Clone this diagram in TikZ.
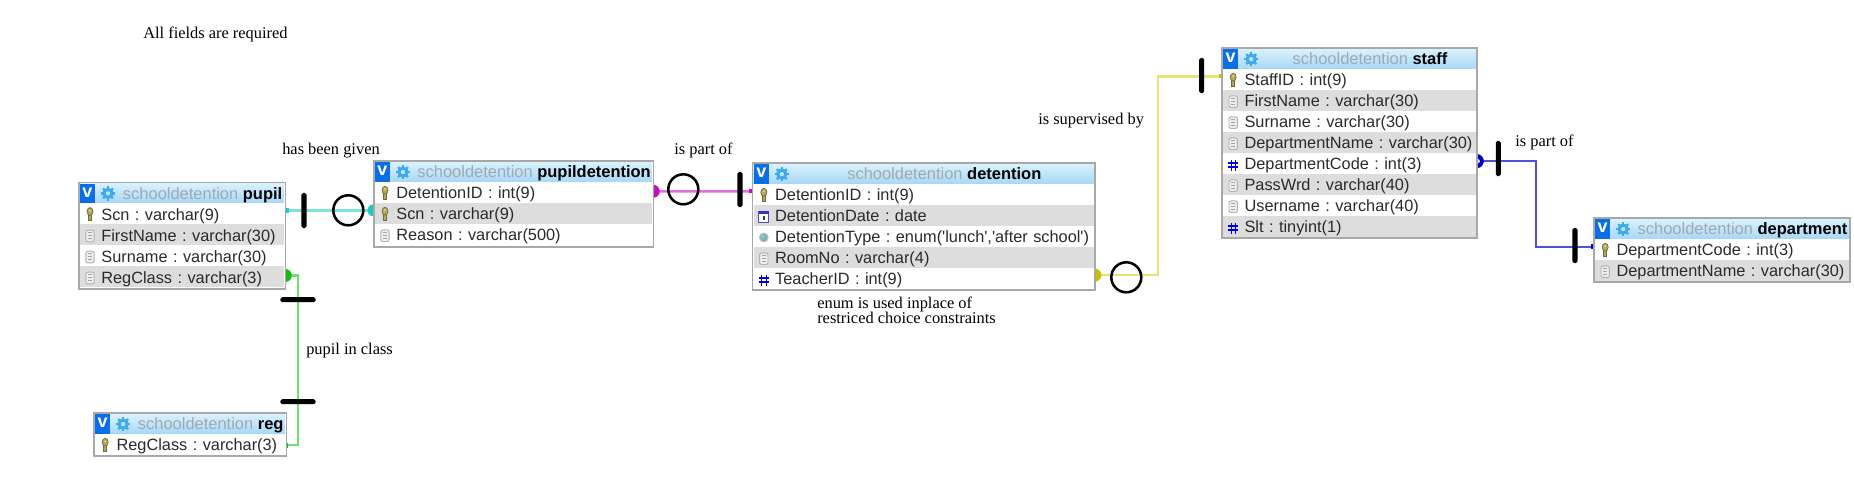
\documentclass[tikz,border=0pt]{standalone}
\usepackage{fontspec}
\setmainfont{Liberation Serif}
\newfontfamily\tabfont{Liberation Sans}
\pgfdeclarelayer{bg}
\pgfsetlayers{bg,main}
\definecolor{framegray}{HTML}{A8A8A8}
\definecolor{rowgray}{HTML}{DDDDDD}
\definecolor{schemagray}{HTML}{A2A9B0}
\definecolor{hdrtop}{HTML}{D8F1FD}
\definecolor{hdrbot}{HTML}{A6D6F6}
\definecolor{vblue}{HTML}{0A6FE6}
\definecolor{gearblue}{HTML}{3DA9EE}
\definecolor{rowtext}{HTML}{2A2A2A}
\definecolor{keyfill}{HTML}{B5A85A}
\definecolor{keydark}{HTML}{6E6A3C}
\definecolor{keylight}{HTML}{E8E2B0}
\definecolor{cyanline}{HTML}{7FE2DA}\definecolor{cyanend}{HTML}{20C8C0}
\definecolor{greenline}{HTML}{70E070}\definecolor{greenend}{HTML}{10C010}
\definecolor{magline}{HTML}{E070E0}\definecolor{magend}{HTML}{C010C0}
\definecolor{yelline}{HTML}{E8E270}\definecolor{yelend}{HTML}{C8C000}
\definecolor{bluline}{HTML}{5050D8}\definecolor{bluend}{HTML}{0000C0}
\tikzset{
  x=.75pt,y=-.75pt,
  tframe/.style={draw=framegray,line width=.75pt,fill=white,rectangle,inner sep=0,anchor=north west},
  thead/.style={rectangle,inner sep=0,anchor=north west,top color=hdrtop,bottom color=hdrbot,draw=none},
  trow/.style={rectangle,anchor=west,inner xsep=0,inner ysep=0,minimum height=15.75pt,text height=10pt,text depth=.3pt,align=left,font=\tabfont\fontsize{12.25}{15}\selectfont\frenchspacing,text=rowtext},
  ttitle/.style={font=\tabfont\fontsize{12.35}{15}\selectfont\frenchspacing,inner sep=0,text height=9.5pt,text depth=.5pt},
  rel/.style={line width=1.8pt},
  optcircle/.style={circle,draw=black,line width=1.9pt,minimum size=22.5pt,inner sep=0},
  vbar/.style={rectangle,fill=black,rounded corners=1.4pt,minimum width=3.8pt,minimum height=26.5pt,inner sep=0},
  hbar/.style={rectangle,fill=black,rounded corners=1.4pt,minimum width=26.5pt,minimum height=3.8pt,inner sep=0},
  note/.style={font=\fontsize{12.3}{15}\selectfont,anchor=base west,inner sep=0,text=black},
}
\newcommand{\icokey}{%
  \fill[keydark] (-1.8,0) rectangle (1.8,7);
  \fill[keyfill] (-.9,.5) rectangle (.9,6.4);
  \filldraw[fill=keyfill,draw=keydark,line width=.5pt] (0,-2.3) ellipse (3 and 3.9);
  \fill[keylight] (0,-3.3) circle (1);}
\newcommand{\icodoc}{%
  \filldraw[fill=black!7,draw=black!30,line width=.7pt,rounded corners=1.5pt] (-4.2,-4.6) rectangle (4.2,7);
  \draw[black!35,line width=.5pt] (-2,-2) -- (2,-2) (-2,1) -- (2,1) (-2,4) -- (2,4);}
\newcommand{\icohash}{%
  \draw[blue!90!black,line width=1pt] (-2,-3.5) -- (-2,7) (2.4,-3.5) -- (2.4,7) (-5,-.5) -- (5,-.5) (-5,3.5) -- (5,3.5);}
\newcommand{\icodate}{%
  \filldraw[fill=white,draw=black!30!blue!70,line width=.6pt] (-5,-4.5) rectangle (5,6.5);
  \fill[blue!60!gray] (-5,-4.5) rectangle (5,-1.5);
  \fill[black!75] (-.6,0) rectangle (1,4.5);}
\newcommand{\icoenum}{%
  \filldraw[fill=teal!55,draw=black!25,line width=.7pt] (0,1) circle (4.4);
  \fill[white!60!teal] (-.8,0) circle (1.6);}
\newcommand{\tabl}[7]{%
  \pgfmathsetmacro\Wf{(#4-#2)*.75}
  \pgfmathsetmacro\Hf{(#5-#3)*.75}
  \pgfmathsetmacro\Wr{(#4-#2-2)*.75}
  \node[tframe,minimum width=\Wf pt,minimum height=\Hf pt] (#1) at (#2,#3) {};
  \node[thead,minimum width=\Wr pt,minimum height=14.9pt] (#1-h) at ({#2+1},{#3+1.5}) {};
  \fill[vblue] ({#2+1.6},{#3+1.5}) rectangle ({#2+16.5},{#3+21.3});
  \node[font=\tabfont\bfseries\fontsize{13.5}{14}\selectfont,text=white,inner sep=0] (#1-v) at ({#2+9},{#3+10.4}) {v};
  \foreach \a in {0,45,...,315}
    \draw[gearblue,line width=1.7pt] ({#2+29.5},{#3+11.4}) ++(\a:3.5) -- ++(\a:3.6);
  \draw[gearblue,line width=2.3pt] ({#2+29.5},{#3+11.4}) circle (4);
  \node[ttitle] (#1-t) at ({(#2+#4)/2+21},{#3+11}) {\textcolor{schemagray}{schooldetention} \textbf{\textcolor{black}{#6}}};
  \foreach \ic/\tx [count=\i] in {#7} {
    \pgfmathtruncatemacro\odd{mod(\i,2)}
    \ifnum\odd=0 \def\rf{rowgray}\else\def\rf{white}\fi
    \node[trow,fill=\rf,text width=\Wr pt,minimum width=\Wr pt] (#1-r\i) at ({#2+1},{#3+21.3+(\i-.5)*21}) {\hspace*{16.2pt}\mbox{\tx}};
    \begin{scope}[shift={({#2+11.5},{#3+21.3+(\i-.5)*21})}]
      \csname ico\ic\endcsname
    \end{scope}
  }
  \draw[framegray,line width=.75pt] (#1.north west) rectangle (#1.south east);
}
\begin{document}
\begin{tikzpicture}
\useasboundingbox (0,0) rectangle (1854,493);
\begin{pgfonlayer}{bg}
\fill[white] (0,0) rectangle (1854,493);
\end{pgfonlayer}

\tabl{pupil}{78.5}{182}{284.7}{288}{pupil}{key/{Scn : varchar(9)},doc/{FirstName : varchar(30)},doc/{Surname : varchar(30)},doc/{RegClass : varchar(3)}}
\tabl{pd}{373.5}{160.7}{652.7}{246.3}{pupildetention}{key/{DetentionID : int(9)},key/{Scn : varchar(9)},doc/{Reason : varchar(500)}}
\tabl{det}{752.3}{162.7}{1094.3}{289.3}{detention}{key/{DetentionID : int(9)},date/{DetentionDate : date},enum/{DetentionType : enum('lunch','after school')},doc/{RoomNo : varchar(4)},hash/{TeacherID : int(9)}}
\tabl{staff}{1221.7}{47.7}{1476.3}{237.3}{staff}{key/{StaffID : int(9)},doc/{FirstName : varchar(30)},doc/{Surname : varchar(30)},doc/{DepartmentName : varchar(30)},hash/{DepartmentCode : int(3)},doc/{PassWrd : varchar(40)},doc/{Username : varchar(40)},hash/{Slt : tinyint(1)}}
\tabl{dept}{1593.7}{217.7}{1849.3}{281.3}{department}{key/{DepartmentCode : int(3)},doc/{DepartmentName : varchar(30)}}
\tabl{reg}{93.7}{412.7}{285.7}{455.3}{reg}{key/{RegClass : varchar(3)}}

\begin{pgfonlayer}{bg}
  % pupil -- pupildetention
  \coordinate (a1) at ([xshift=.75pt,yshift=2.6pt]pupil-r1.east);
  \coordinate (a2) at ([xshift=-.75pt,yshift=1.9pt]pd-r2.west);
  \draw[rel,cyanline] (a1) -- (a1 -| a2);
  \fill[cyanend] (a1) ++(0,-2.5) rectangle ++(4,5);
  \fill[cyanend] (a1 -| a2) circle (6);
  % pupil -- reg
  \coordinate (b1) at ([xshift=.75pt,yshift=1pt]pupil-r4.east);
  \coordinate (b2) at ([xshift=-.75pt,yshift=-.4pt]reg-r1.east);
  \coordinate (b3) at (298,0);
  \draw[rel,greenline] (b1) -- (b1 -| b3) -- (b2 -| b3) -- (b2);
  \fill[greenend] (b1) circle (6.5);
  \fill[greenend] (b2) ++(0,-2.5) rectangle ++(4,5);
  % pupildetention -- detention
  \coordinate (c1) at ([xshift=.75pt,yshift=.9pt]pd-r1.east);
  \coordinate (c2) at ([xshift=-.75pt,yshift=2.3pt]det-r1.west);
  \draw[rel,magline] (c1) -- (c2);
  \fill[magend] (c1) circle (6.5);
  \fill[magend] (c2) ++(-3,-2) rectangle ++(3,4);
  % detention -- staff
  \coordinate (d1) at ([xshift=.75pt,yshift=2.5pt]det-r5.east);
  \coordinate (d2) at ([xshift=-.75pt,yshift=2.4pt]staff-r1.west);
  \coordinate (d3) at (1158,0);
  \draw[rel,yelline] (d1) -- (d1 -| d3) -- (d2 -| d3) -- (d2);
  \fill[yelend] (d1) circle (6.5);
  \fill[yelend] (d2) ++(-3,-2) rectangle ++(3,4);
  % staff -- department
  \coordinate (e1) at ([xshift=.75pt,yshift=1.8pt]staff-r5.east);
  \coordinate (e2) at ([xshift=-.75pt,yshift=1.9pt]dept-r1.west);
  \coordinate (e3) at (1536,0);
  \draw[rel,bluline] (e1) -- (e1 -| e3) -- (e2 -| e3) -- (e2);
  \fill[bluend] (e1) circle (7);
  \fill[white] (e1) ++(1,0) circle (2);
  \fill[bluend] (e2) ++(-3,-2.5) rectangle ++(3,5);
\end{pgfonlayer}

\node[vbar] (bar1) at (304,210.5) {};
\node[optcircle] (circ1) at (348.3,210.3) {};
\node[hbar] (bar2) at (298,299.7) {};
\node[hbar] (bar3) at (298,401.7) {};
\node[optcircle] (circ2) at (683.3,189.3) {};
\node[vbar] (bar4) at (740,189.5) {};
\node[optcircle] (circ3) at (1126.3,277.3) {};
\node[vbar] (bar5) at (1201.7,75.5) {};
\node[vbar] (bar6) at (1498.3,158.5) {};
\node[vbar] (bar7) at (1575,245.5) {};

\node[note] (n1) at (143,38) {All fields are required};
\node[note] (n2) at (282,154.5) {has been given};
\node[note] (n3) at (674,154.5) {is part of};
\node[note] (n4) at (306,354) {pupil in class};
\node[note] (n5) at (817,308.2) {enum is used inplace of};
\node[note] (n6) at (817,323.5) {restriced choice constraints};
\node[note] (n7) at (1038,124.5) {is supervised by};
\node[note] (n8) at (1515,146.5) {is part of};
\end{tikzpicture}
\end{document}
